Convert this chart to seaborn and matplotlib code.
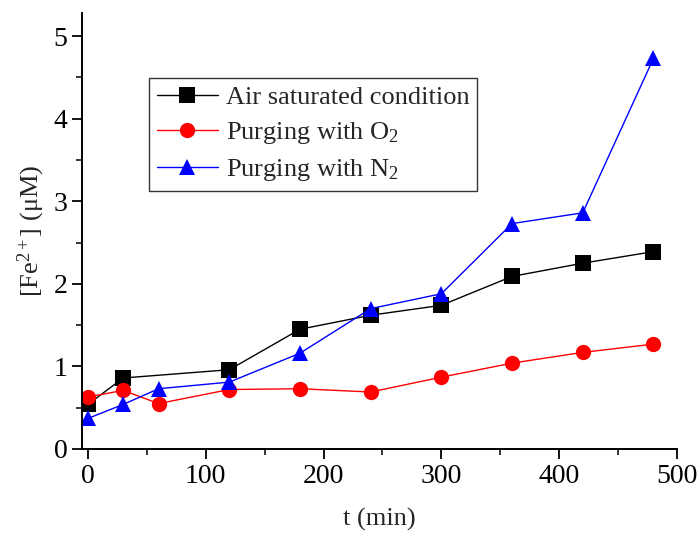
import matplotlib
matplotlib.use("Agg")
import matplotlib.pyplot as plt
import seaborn as sns
import pandas as pd
from matplotlib.ticker import MultipleLocator

# ---- data ----
t_air = [0, 30, 120, 180, 240, 300, 360, 420, 480]
air = [0.54, 0.86, 0.96, 1.45, 1.62, 1.74, 2.09, 2.25, 2.39]
t_o2 = [0, 30, 60, 120, 180, 240, 300, 360, 420, 480]
o2 = [0.63, 0.71, 0.55, 0.72, 0.73, 0.69, 0.87, 1.04, 1.17, 1.27]
t_n2 = [0, 30, 60, 120, 180, 240, 300, 360, 420, 480]
n2 = [0.37, 0.54, 0.73, 0.81, 1.16, 1.70, 1.88, 2.73, 2.86, 4.73]
labels = ["Air saturated condition", "Purging with O$_2$", "Purging with N$_2$"]

df = pd.concat([
    pd.DataFrame({"t": t_air, "c": air, "series": labels[0]}),
    pd.DataFrame({"t": t_o2, "c": o2, "series": labels[1]}),
    pd.DataFrame({"t": t_n2, "c": n2, "series": labels[2]}),
])

sns.set_style("ticks")
plt.rcParams["font.family"] = ["Liberation Serif", "DejaVu Serif"]
plt.rcParams["mathtext.fontset"] = "custom"
plt.rcParams["mathtext.rm"] = "Liberation Serif"
plt.rcParams["mathtext.it"] = "Liberation Serif:italic"

fig = plt.figure(figsize=(6.99, 5.33), dpi=100)
ax = fig.add_axes([82/699, 1 - 449/533, (677-82)/699, (449-13)/533])

palette = {labels[0]: "black", labels[1]: "#ff0000", labels[2]: "#0000ff"}
markers = {labels[0]: "s", labels[1]: "o", labels[2]: "^"}
sns.lineplot(data=df, x="t", y="c", hue="series", style="series",
             palette=palette, markers=markers, dashes=False,
             markersize=11, markeredgewidth=0, linewidth=1.0,
             sort=False, ax=ax)

ax.set_xlim(-5, 500)
ax.set_ylim(0, 5.28)
ax.xaxis.set_major_locator(MultipleLocator(100))
ax.xaxis.set_minor_locator(MultipleLocator(50))
ax.yaxis.set_major_locator(MultipleLocator(1))
ax.yaxis.set_minor_locator(MultipleLocator(0.5))
ax.tick_params(which="major", direction="out", length=7.5, width=1.3, labelsize=20,
               colors="black", pad=3)
ax.tick_params(which="minor", direction="out", length=4, width=1.3)
for s in ["left", "bottom"]:
    ax.spines[s].set_linewidth(1.4)
    ax.spines[s].set_color("black")
sns.despine(ax=ax)

ax.set_xlabel("t (min)", fontsize=19, labelpad=14)
ax.set_ylabel("[Fe$^{2+}$] (\u03bcM)", fontsize=19, labelpad=5)

leg = ax.legend(loc="upper left", bbox_to_anchor=(0.113, 0.852), fontsize=19,
                frameon=True, fancybox=False, edgecolor="black",
                handlelength=2.3, handletextpad=0.3, borderpad=0.3,
                labelspacing=0.42, borderaxespad=0)
leg.get_frame().set_linewidth(1.0)

fig.savefig("out.png", dpi=100)
